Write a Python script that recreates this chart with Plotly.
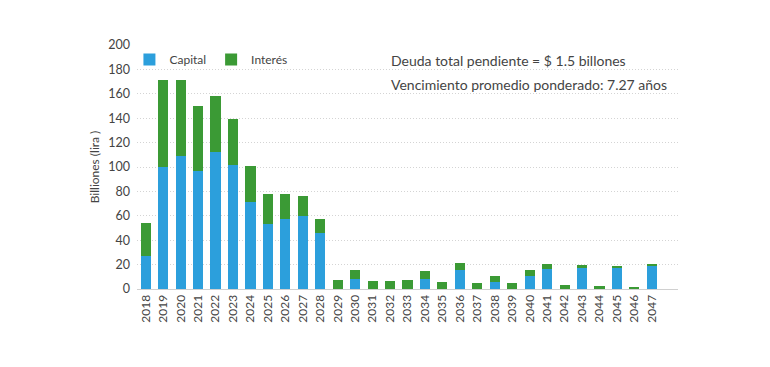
import plotly.graph_objects as go

years = [str(y) for y in range(2018, 2048)]
capital = [27, 100, 109, 97, 112, 102, 71, 53, 57, 60, 46, 0, 8, 0, 0, 0, 8, 0, 15.5, 0, 6, 0, 11, 16.5, 0, 17, 0, 17.5, 0, 19.2]
total = [54, 171, 171, 150, 158, 139, 101, 77.5, 77.5, 76.5, 57, 7.2, 15.6, 6.6, 6.6, 7.4, 14.8, 5.8, 21.4, 4.7, 10.4, 4.7, 15.6, 20.5, 3.0, 19.5, 2.2, 18.6, 1.1, 20.5]
interes = [round(t - c, 2) for t, c in zip(total, capital)]

blue = "#2C9FDC"
green = "#3B9A35"
font = "Lato"

fig = go.Figure()
fig.add_trace(go.Bar(x=years, y=capital, name="Capital", marker=dict(color=blue, line=dict(width=0))))
fig.add_trace(go.Bar(x=years, y=interes, name="Interés", marker=dict(color=green, line=dict(width=0))))

fig.update_layout(
    barmode="stack",
    bargap=0.42,
    width=770, height=367,
    margin=dict(l=129, r=100, t=37, b=86),
    plot_bgcolor="white", paper_bgcolor="white",
    font=dict(family=font, size=12, color="#444"),
    showlegend=True,
    legend=dict(orientation="h", x=-0.014, y=1.0, xanchor="left", yanchor="top",
                font=dict(size=12, color="#444"), bgcolor="rgba(0,0,0,0)",
                itemwidth=30, traceorder="normal"),
    xaxis=dict(type="category", range=[-0.5, 30.5], tickangle=-90,
               showline=True, linecolor="#d0d0d0", linewidth=1,
               showgrid=False, ticks="", tickfont=dict(size=12, color="#444")),
    yaxis=dict(range=[0, 200], dtick=20, showgrid=True, gridcolor="#d4d4d4",
               griddash="1px,2px", gridwidth=1, zeroline=False, showline=False,
               ticks="", ticklabelstandoff=6, tickfont=dict(size=12.5, color="#444"),
               title=dict(text="Billiones (lira )", font=dict(size=12, color="#444"), standoff=6)),
    annotations=[
        dict(text="Deuda total pendiente = $ 1.5 billones", xref="paper", yref="paper",
             x=0.466, y=0.935, xanchor="left", yanchor="middle", showarrow=False,
             font=dict(size=14, color="#444", family=font)),
        dict(text="Vencimiento promedio ponderado: 7.27 años", xref="paper", yref="paper",
             x=0.466, y=0.84, xanchor="left", yanchor="middle", showarrow=False,
             font=dict(size=14, color="#444", family=font)),
    ],
)

fig.write_html("out.html")
